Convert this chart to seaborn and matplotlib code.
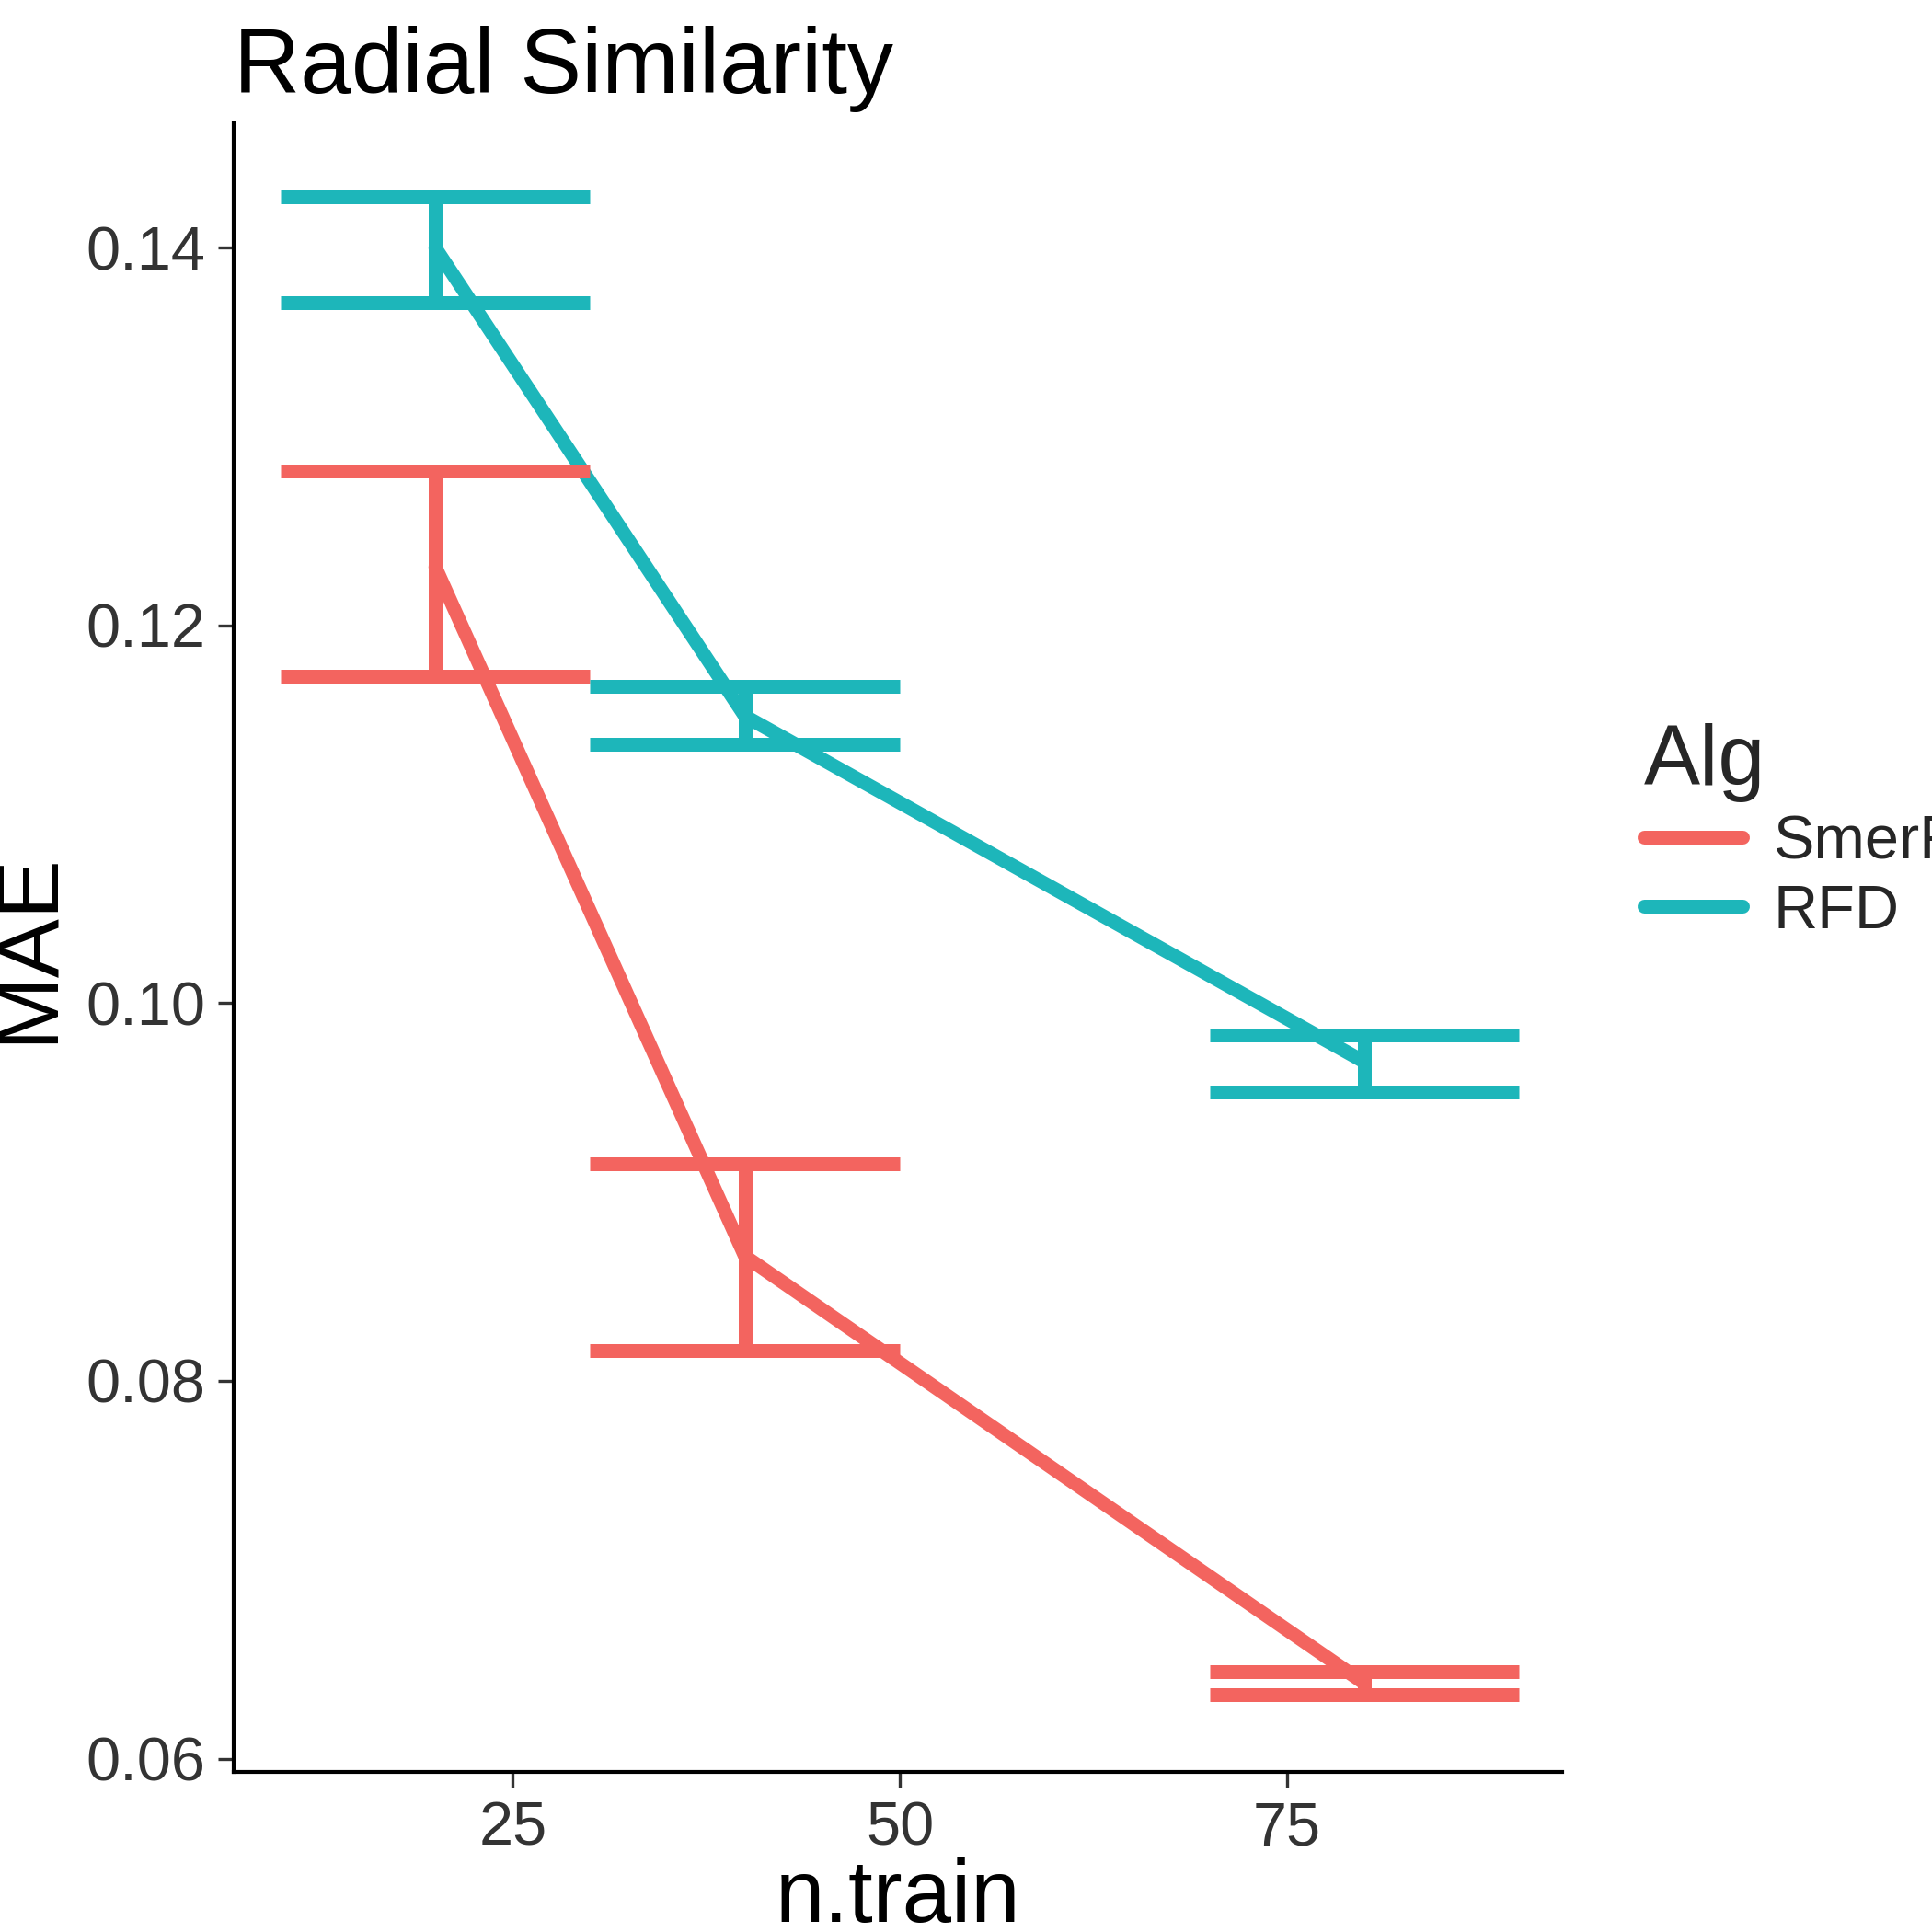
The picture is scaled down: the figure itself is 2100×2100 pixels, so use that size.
import matplotlib
matplotlib.use("Agg")
import matplotlib.pyplot as plt
import seaborn as sns
import pandas as pd

n_train = [20, 40, 80]
algs = ["SmerF", "RFD"]
smerf_mean = [0.1231, 0.0866, 0.0640]
smerf_lo = [0.1173, 0.0816, 0.0634]
smerf_hi = [0.1282, 0.0915, 0.0646]
rfd_mean = [0.1400, 0.1152, 0.0969]
rfd_lo = [0.1371, 0.1137, 0.0953]
rfd_hi = [0.1427, 0.1168, 0.0983]

palette = {"SmerF": "#F3645F", "RFD": "#1DB6BA"}

df = pd.DataFrame({
    "n.train": n_train * 2,
    "MAE": smerf_mean + rfd_mean,
    "lo": smerf_lo + rfd_lo,
    "hi": smerf_hi + rfd_hi,
    "Alg": ["SmerF"] * 3 + ["RFD"] * 3,
})

sns.set_style("white")
plt.rcParams["font.family"] = ["Liberation Sans", "DejaVu Sans"]

fig = plt.figure(figsize=(7, 7), dpi=300)
ax = fig.add_axes([190 / 1568, 1 - 1438 / 1568, (1268 - 190) / 1568, (1438 - 100) / 1568])

lw = 3.6
sns.lineplot(data=df, x="n.train", y="MAE", hue="Alg", hue_order=algs,
             palette=palette, linewidth=lw, ax=ax)
half = 10
for alg in algs:
    sub = df[df["Alg"] == alg]
    c = palette[alg]
    ax.vlines(sub["n.train"], sub["lo"], sub["hi"], color=c, linewidth=lw)
    ax.hlines(sub["lo"], sub["n.train"] - half, sub["n.train"] + half, color=c, linewidth=lw)
    ax.hlines(sub["hi"], sub["n.train"] - half, sub["n.train"] + half, color=c, linewidth=lw)

ax.set_xlim(7.0, 92.8)
ax.set_ylim(0.0593, 0.1466)
ax.set_xticks([25, 50, 75])
ax.set_yticks([0.06, 0.08, 0.10, 0.12, 0.14])
ax.set_yticklabels(["0.06", "0.08", "0.10", "0.12", "0.14"])
ax.tick_params(axis="both", labelsize=16, colors="#333333", length=4, width=0.8,
               direction="out", left=True, bottom=True)
for s in ["top", "right"]:
    ax.spines[s].set_visible(False)
for s in ["left", "bottom"]:
    ax.spines[s].set_color("black")
    ax.spines[s].set_linewidth(1.0)
ax.set_xlabel("n.train", fontsize=23, labelpad=0, color="black")
ax.set_ylabel("MAE", fontsize=23, labelpad=4, color="black")
ax.set_title("Radial Similarity", fontsize=24, loc="left", x=0.0, pad=8, color="black")

leg = ax.legend(title="Alg", loc="center left", bbox_to_anchor=(1.02, 0.57),
                frameon=False, fontsize=16, title_fontsize=22, handlelength=1.6,
                handletextpad=0.5, labelspacing=0.2)
leg._legend_box.align = "left"

fig.savefig("out.png", dpi=300)
